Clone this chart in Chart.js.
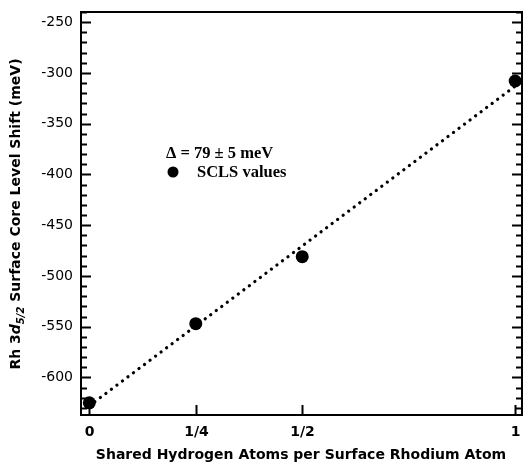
<!DOCTYPE html>
<html>
<head>
<meta charset="utf-8">
<script src="https://cdn.jsdelivr.net/npm/chart.js@4.4.1/dist/chart.umd.min.js"></script>
<style>
  html, body { margin: 0; padding: 0; background: #fff; }
  canvas { display: block; }
</style>
</head>
<body>
<canvas id="scls" width="524" height="462"></canvas>
<script>
// data
const coverage = [0, 0.25, 0.5, 1];
const sclsValues = [-625, -547, -481, -308];
const fitCoverage = [0, 1];
const fitValues = [-628, -313];
const xTickValues = [0, 0.25, 0.5, 1];
const xTickLabels = ['0', '1/4', '1/2', '1'];
const yTickValues = [-600, -550, -500, -450, -400, -350, -300, -250];

const SANS = '"DejaVu Sans", Verdana, sans-serif';
const SERIF = '"Liberation Serif", "Times New Roman", serif';

const toPoints = (xs, ys) => xs.map((x, i) => ({ x: x, y: ys[i] }));

// ticks pointing inward, frame, titles and the little legend box
const framePlugin = {
  id: 'frame',
  afterDraw(chart) {
    const ctx = chart.ctx;
    const a = chart.chartArea;
    const xs = chart.scales.x;
    const ys = chart.scales.y;
    ctx.save();
    ctx.strokeStyle = '#000';
    ctx.lineWidth = 2;
    ctx.strokeRect(a.left, a.top, a.right - a.left, a.bottom - a.top);

    // y ticks, both sides
    for (let v = -630; v <= ys.max; v += 10) {
      const y = Math.round(ys.getPixelForValue(v)) + 0.5;
      const len = v % 50 === 0 ? 10 : 6;
      ctx.beginPath();
      ctx.moveTo(a.left, y); ctx.lineTo(a.left + len, y);
      ctx.moveTo(a.right, y); ctx.lineTo(a.right - len, y);
      ctx.stroke();
    }
    // x ticks along the bottom, with their labels
    ctx.fillStyle = '#000';
    ctx.font = 'bold 14px ' + SANS;
    ctx.textAlign = 'center';
    ctx.textBaseline = 'top';
    xTickValues.forEach((v, i) => {
      const x = Math.round(xs.getPixelForValue(v)) + 0.5;
      ctx.beginPath();
      ctx.moveTo(x, a.bottom); ctx.lineTo(x, a.bottom - 10);
      ctx.stroke();
      ctx.fillText(xTickLabels[i], x, a.bottom + 10);
    });

    // x title
    ctx.textBaseline = 'alphabetic';
    ctx.fillText('Shared Hydrogen Atoms per Surface Rhodium Atom', 301, 459);

    // y title with italic d and subscript 5/2
    ctx.save();
    ctx.translate(20, 214);
    ctx.rotate(-Math.PI / 2);
    const parts = [
      { t: 'Rh 3', f: 'bold 14px ' + SANS, dy: 0 },
      { t: 'd', f: 'italic bold 14px ' + SANS, dy: 0 },
      { t: '5/2', f: 'italic bold 10px ' + SANS, dy: 4 },
      { t: ' Surface Core Level Shift (meV)', f: 'bold 14px ' + SANS, dy: 0 }
    ];
    let total = 0;
    parts.forEach(p => { ctx.font = p.f; total += ctx.measureText(p.t).width; });
    let cx = -total / 2;
    ctx.textAlign = 'left';
    parts.forEach(p => {
      ctx.font = p.f;
      ctx.fillText(p.t, cx, p.dy);
      cx += ctx.measureText(p.t).width;
    });
    ctx.restore();

    // legend text
    ctx.font = 'bold 16.5px ' + SERIF;
    ctx.textAlign = 'left';
    ctx.fillText('\u0394 = 79 \u00b1 5 meV', 166, 158);
    ctx.fillText('SCLS values', 197, 177);
    ctx.beginPath();
    ctx.arc(173, 172, 5.5, 0, Math.PI * 2);
    ctx.fill();
    ctx.restore();
  }
};

new Chart(document.getElementById('scls'), {
  type: 'scatter',
  data: {
    datasets: [
      {
        label: 'fit',
        data: toPoints(fitCoverage, fitValues),
        showLine: true,
        borderColor: '#000',
        borderWidth: 3.2,
        borderDash: [0.1, 6.8],
        borderCapStyle: 'round',
        pointRadius: 0,
        fill: false
      },
      {
        label: 'SCLS values',
        data: toPoints(coverage, sclsValues),
        pointRadius: 6.5,
        pointBackgroundColor: '#000',
        pointBorderColor: '#000',
        pointBorderWidth: 0,
        clip: false
      }
    ]
  },
  options: {
    responsive: false,
    animation: false,
    layout: { autoPadding: false, padding: { top: 12, right: 2, left: 0, bottom: 0 } },
    plugins: {
      legend: { display: false },
      tooltip: { enabled: false }
    },
    scales: {
      x: {
        type: 'linear',
        min: -0.0195,
        max: 1.016,
        grid: { display: false, drawTicks: false },
        border: { display: false },
        afterBuildTicks: s => { s.ticks = xTickValues.map(v => ({ value: v })); },
        afterFit: s => { s.height = 47; },
        ticks: { display: false }
      },
      y: {
        min: -637,
        max: -240,
        grid: { display: false, drawTicks: false },
        border: { display: false },
        afterBuildTicks: s => { s.ticks = yTickValues.map(v => ({ value: v })); },
        afterFit: s => { s.width = 81; s.paddingTop = 0; s.paddingBottom = 0; },
        ticks: {
          padding: 8,
          color: '#000',
          font: { family: SANS, size: 14 },
          callback: v => String(v)
        }
      }
    }
  },
  plugins: [framePlugin]
});
</script>
</body>
</html>
